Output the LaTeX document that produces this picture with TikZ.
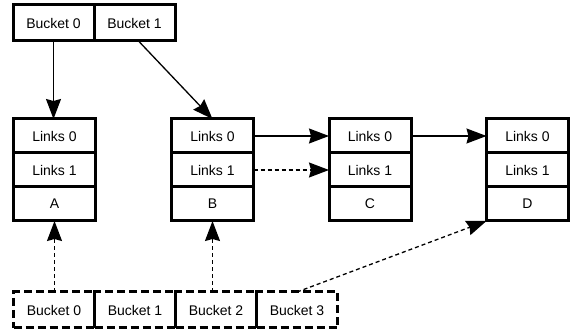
\documentclass[tikz,border=0pt]{standalone}
\usepackage{fontspec}
\setmainfont{Liberation Sans}
\usetikzlibrary{arrows.meta, positioning}

\begin{document}
\begin{tikzpicture}[x=1pt, y=1pt, node distance=0pt, font=\fontsize{14}{16}\selectfont]
\tikzstyle{bucket}=[rectangle, draw, line width=3pt, minimum width=81pt, minimum height=36pt, outer sep=0pt, inner sep=0pt]
\tikzstyle{newbucket}=[bucket, dash pattern=on 8pt off 4pt]
\tikzstyle{cell}=[rectangle, draw, line width=3pt, minimum width=82pt, minimum height=34pt, outer sep=0pt, inner sep=0pt]
\tikzstyle{link}=[-{Stealth[length=20pt,width=15pt,inset=2pt]}, line width=1.3pt]
\tikzstyle{newlink}=[link, dash pattern=on 4pt off 3pt]

\useasboundingbox (0,0) rectangle (571,-331);

% old bucket array
\node[bucket] (oldb0) at (53.5,-23) {Bucket 0};
\node[bucket, right=of oldb0] (oldb1) {Bucket 1};

% entries
\node[cell] (linkA0) at (54.5,-136) {Links 0};
\node[cell, below=of linkA0] (linkA1) {Links 1};
\node[cell, below=of linkA1] (keyA) {A};

\node[cell] (linkB0) at (212.5,-136) {Links 0};
\node[cell, below=of linkB0] (linkB1) {Links 1};
\node[cell, below=of linkB1] (keyB) {B};

\node[cell] (linkC0) at (370,-136) {Links 0};
\node[cell, below=of linkC0] (linkC1) {Links 1};
\node[cell, below=of linkC1] (keyC) {C};

\node[cell] (linkD0) at (527.5,-136) {Links 0};
\node[cell, below=of linkD0] (linkD1) {Links 1};
\node[cell, below=of linkD1] (keyD) {D};

% new bucket array
\node[newbucket] (newb0) at (54,-310) {Bucket 0};
\node[newbucket, right=of newb0] (newb1) {Bucket 1};
\node[newbucket, right=of newb1] (newb2) {Bucket 2};
\node[newbucket, right=of newb2] (newb3) {Bucket 3};

\draw[link] (oldb0.south) -- (oldb0.south |- linkA0.north);
\draw[link] ([xshift=4pt]oldb1.south) -- (linkB0.north);
\draw[link] (linkB0) -- (linkC0);
\draw[newlink] (linkB1) -- (linkC1);
\draw[link] (linkC0) -- (linkD0);

\draw[newlink] (newb0.north -| keyA) -- (keyA.south);
\draw[newlink] (newb2.north -| keyB) -- (keyB.south);
\draw[newlink] (newb3.north) -- (keyD.south west);

\end{tikzpicture}
\end{document}
